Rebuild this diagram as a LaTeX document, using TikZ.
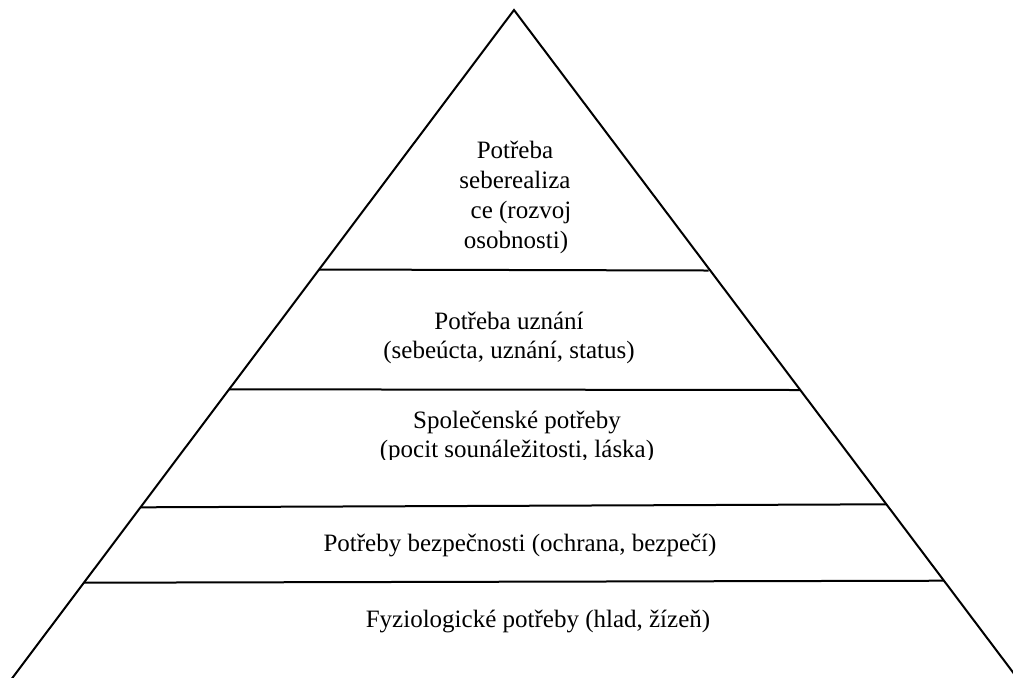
\documentclass[tikz,border=0pt]{standalone}
\usepackage{fontspec}
\setmainfont{Liberation Serif}
\begin{document}
\begin{tikzpicture}[x=0.5pt,y=-0.5pt,
  tier/.style={line width=1pt,draw=black},
  label/.style={anchor=base,inner sep=0pt,font=\fontsize{12.5pt}{15pt}\selectfont}]
\useasboundingbox (0,0) rectangle (1013,677);
\begin{scope}
\clip (0,0) rectangle (1013,677);
% pyramid outline (base runs off the page)
\coordinate (apex) at (514,10);
\coordinate (bl) at (3.3,690);
\coordinate (br) at (1026.3,690);
\draw[tier,line join=miter] (bl) -- (apex) -- (br);
% tier dividers
\coordinate (l1) at (319.1,269.5); \coordinate (r1) at (708.5,270.5);
\coordinate (l2) at (229.1,389.3); \coordinate (r2) at (800.3,390);
\coordinate (l3) at (140.5,507.3); \coordinate (r3) at (886.4,504.3);
\coordinate (l4) at (83.9,582.7);  \coordinate (r4) at (944.0,580.7);
\draw[tier] (l1) -- (r1);
\draw[tier] (l2) -- (r2);
\draw[tier] (l3) -- (r3);
\draw[tier] (l4) -- (r4);
\end{scope}
% top tier
\node[label] (t1a) at (515,158) {Potřeba};
\node[label] (t1b) at (515,188) {seberealiza};
\node[label] (t1c) at (521,218) {ce (rozvoj};
\node[label] (t1d) at (516,248) {osobnosti)};
% second tier
\node[label] (t2a) at (509,329) {Potřeba uznání};
\node[label] (t2b) at (509,358) {(sebeúcta, uznání, status)};
% third tier, lower line cut off by its box
\begin{scope}
\clip (0,392) rectangle (1013,459.5);
\node[label] (t3a) at (517,428) {Společenské potřeby};
\node[label] (t3b) at (517,457) {(pocit sounáležitosti, láska)};
\end{scope}
% fourth tier
\node[label] (t4) at (520,551) {Potřeby bezpečnosti (ochrana, bezpečí)};
% base tier
\node[label] (t5) at (538,627) {Fyziologické potřeby (hlad, žízeň)};
\end{tikzpicture}
\end{document}
